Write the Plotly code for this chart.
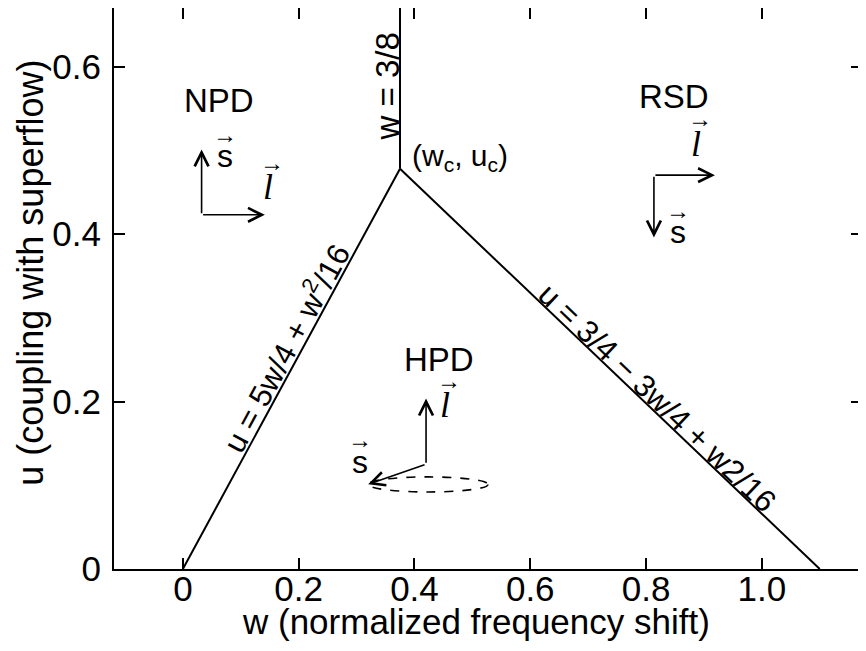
import plotly.graph_objects as go

# ---- data ----
w_left = [0.0, 0.375]          # u = 5w/4 + w^2/16 boundary
u_left = [0.0, 0.478]
w_right = [0.375, 1.10]        # u = 3/4 - 3w/4 + w^2/16 boundary
u_right = [0.478, 0.0]
w_vert = [0.375, 0.375]        # w = 3/8 boundary
u_vert = [0.478, 0.70]

x_tickvals = [0, 0.2, 0.4, 0.6, 0.8, 1.0]
x_ticktext = ["0", "0.2", "0.4", "0.6", "0.8", "1.0"]
y_tickvals = [0, 0.2, 0.4, 0.6]
y_ticktext = ["0", "0.2", "0.4", "0.6"]

FONT = "Liberation Sans"
BLACK = "black"

fig = go.Figure()
for xs, ys in [(w_left, u_left), (w_right, u_right), (w_vert, u_vert)]:
    fig.add_trace(go.Scatter(x=xs, y=ys, mode="lines",
                             line=dict(color=BLACK, width=2),
                             showlegend=False, hoverinfo="skip"))

ann = []

def text(x, y, t, size=33, angle=0, family=FONT, ref="", **kw):
    ann.append(dict(x=x, y=y, xref="x" + ref, yref="y" + ref, text=t, showarrow=False,
                    textangle=angle, font=dict(family=family, size=size, color=BLACK),
                    xanchor="center", yanchor="middle", **kw))

def arrow(x0, y0, x1, y1):
    ann.append(dict(x=x1, y=y1, ax=x0, ay=y0, xref="x", yref="y",
                    axref="x", ayref="y", text="", showarrow=True,
                    arrowhead=5, arrowsize=1.7, arrowwidth=1.6,
                    arrowcolor=BLACK, standoff=0, startstandoff=0))

def vec(x, y, letter, italic=False):
    if italic:
        text(x, y, "<i>" + letter + "</i>", size=36, family="Liberation Serif")
        text(x, y, "→", size=24, yshift=25, xshift=4)
    else:
        text(x, y, letter, size=32)
        text(x, y, "→", size=24, yshift=22)

# region labels
text(0.062, 0.560, "NPD")
text(0.849, 0.564, "RSD")
text(0.442, 0.250, "HPD")

# NPD vectors
arrow(0.0323, 0.423, 0.0323, 0.501)
arrow(0.0323, 0.423, 0.1416, 0.423)
vec(0.0726, 0.493, "s")
vec(0.147, 0.456, "l", italic=True)

# RSD vectors
arrow(0.8136, 0.4704, 0.919, 0.4704)
arrow(0.8136, 0.4704, 0.8136, 0.396)
vec(0.887, 0.508, "l", italic=True)
vec(0.856, 0.402, "s")

# HPD vectors
arrow(0.420, 0.125, 0.420, 0.2035)
arrow(0.420, 0.125, 0.320, 0.1013)
vec(0.4526, 0.1955, "l", italic=True)
vec(0.3058, 0.128, "s")

# boundary labels
text(0.354, 0.576, "w = 3/8", size=33, angle=-90)
text(0.4785, 0.491, "(w<sub>c</sub>, u<sub>c</sub>)", size=30)
text(0.1762, 0.2653, "u = 5w/4 + w<sup>2</sup>/16", size=31, angle=-61.6)
text(0.8205, 0.204, "u = 3/4 − 3w/4 + w2/16", size=31, angle=43.7)

# axis titles (placed as domain-anchored text)
text(0.484, -0.094, "w (normalized frequency shift)", size=35, ref=" domain")
text(-0.111, 0.528, "u (coupling with superflow)", size=36, angle=-90, ref=" domain")

# the page body adds an 8px offset; size the figure so the plot area lands
# where the reference has it inside the 866x651 window
fig.update_layout(
    width=858, height=643,
    margin=dict(l=106, r=4, t=0, b=82, pad=0),
    paper_bgcolor="white", plot_bgcolor="white",
    font=dict(family=FONT, size=35, color=BLACK),
    annotations=ann,
    shapes=[dict(type="circle", xref="x", yref="y",
                 x0=0.320, x1=0.527, y0=0.092, y1=0.110,
                 line=dict(color=BLACK, width=1.6, dash="dash"))],
    xaxis=dict(range=[-0.119, 1.173], tickvals=x_tickvals, ticktext=x_ticktext,
               ticks="inside", ticklen=11, tickwidth=1.5, tickcolor=BLACK,
               showline=True, linewidth=2, linecolor=BLACK, mirror="ticks",
               showgrid=False, zeroline=False, tickfont=dict(size=35),
               ticklabelstandoff=-12, automargin=False),
    yaxis=dict(range=[0, 0.67], tickvals=y_tickvals, ticktext=y_ticktext,
               ticks="inside", ticklen=11, tickwidth=1.5, tickcolor=BLACK,
               showline=True, linewidth=2, linecolor=BLACK, mirror="ticks",
               showgrid=False, zeroline=False, tickfont=dict(size=35),
               ticklabelstandoff=4, automargin=False),
)

fig.write_html("out.html")
